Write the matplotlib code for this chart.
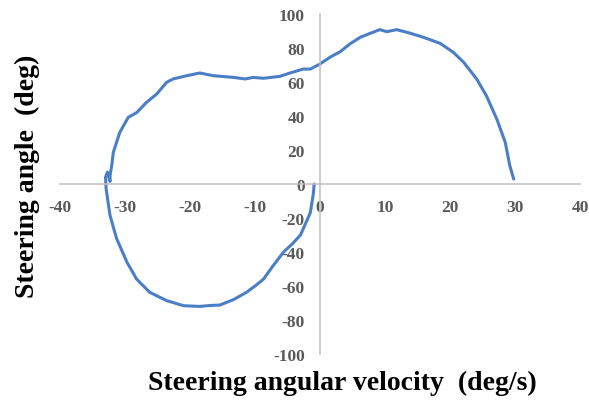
import matplotlib
matplotlib.use("Agg")
import matplotlib.pyplot as plt

# Data (steering angular velocity vs steering angle)
velocity = [-0.9, -1.0, -1.2, -1.5, -2.2, -3.0, -4.2, -5.6, -7.2, -8.7, -10.0, -11.3, -13.3,
            -15.4, -17.0, -18.5, -21.0, -23.6, -26.2, -28.2, -29.7, -31.3, -32.3, -32.9,
            -33.0, -32.7, -32.3, -32.3, -32.0, -31.8, -30.8, -29.5, -28.2, -26.7, -25.1,
            -23.6, -22.6, -20.5, -18.5, -16.4, -13.3, -11.5, -10.3, -8.7, -6.2, -4.6, -2.6,
            -1.5, 0.0, 1.5, 3.1, 4.6, 6.2, 7.7, 9.2, 10.3, 11.8, 13.8, 15.9, 18.5, 20.5,
            22.1, 24.1, 25.6, 27.2, 28.5, 29.2, 29.8]
angle = [0, -5, -10, -17, -23, -30, -35, -40, -48, -56, -60, -63.7, -68,
         -71.2, -71.5, -72, -71.6, -68.6, -63.7, -56, -46, -32, -18.6, -3,
         4, 7, 1.5, 5, 12, 18.6, 30.4, 39.2, 42, 48, 53,
         59.8, 61.8, 63.7, 65.3, 63.7, 62.7, 61.8, 62.7, 62.2, 63.3, 65.3, 67.6,
         67.6, 70.6, 74.5, 77.8, 82.4, 86.3, 88.6, 90.8, 89.6, 90.8, 88.8, 86.3, 82.7, 77.5,
         71.6, 61.8, 51.9, 38.2, 24.5, 10.8, 2.9]
x_ticks = [-40, -30, -20, -10, 0, 10, 20, 30, 40]
y_ticks = [-100, -80, -60, -40, -20, 0, 20, 40, 60, 80, 100]
x_label = "Steering angular velocity  (deg/s)"
y_label = "Steering angle  (deg)"

plt.rcParams['axes.unicode_minus'] = False
plt.rcParams['font.family'] = ['Liberation Serif', 'DejaVu Serif']

fig = plt.figure(figsize=(5.89, 4.02), dpi=100)
ax = fig.add_axes([60/589, 47/402, 520/589, 340/402])

ax.plot(velocity, angle, color='#4a7ec6', linewidth=2.2, solid_capstyle='round',
        solid_joinstyle='round')

ax.set_xlim(-40, 40)
ax.set_ylim(-100, 100)
ax.set_xticks(x_ticks)
ax.set_yticks(y_ticks)

for s in ['top', 'right']:
    ax.spines[s].set_visible(False)
ax.spines['left'].set_position(('data', 0))
ax.spines['bottom'].set_position(('data', 0))
for s in ['left', 'bottom']:
    ax.spines[s].set_color('#bfbfbf')
    ax.spines[s].set_linewidth(1.1)

ax.tick_params(axis='both', length=0, labelsize=12.5, labelcolor='#595959')
ax.tick_params(axis='x', pad=11)
ax.tick_params(axis='y', pad=11)
for lab in ax.get_xticklabels() + ax.get_yticklabels():
    lab.set_fontweight('bold')

fig.text(342/589, 1 - 383/402, x_label, ha='center', va='center',
         fontsize=20, fontweight='bold', color='black')
fig.text(27/589, 1 - 176/402, y_label, ha='center', va='center', rotation=90,
         fontsize=20, fontweight='bold', color='black')

fig.savefig('out.png', dpi=100)
